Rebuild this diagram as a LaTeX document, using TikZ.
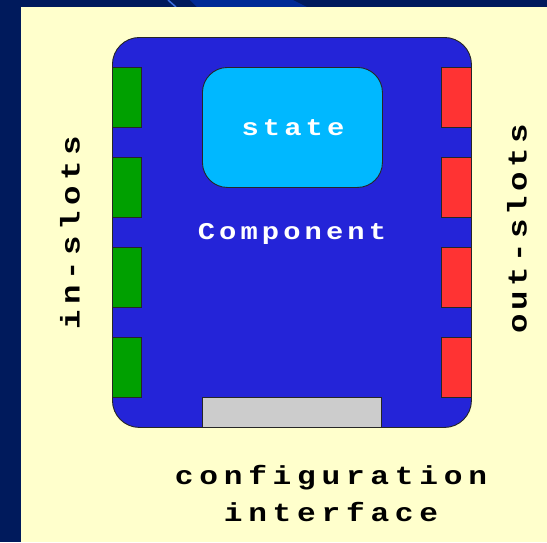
\documentclass[tikz,border=0pt]{standalone}
\usepackage{fontspec}
\newfontfamily\compfont[FakeStretch=1.2,LetterSpace=17]{Liberation Mono}
\newfontfamily\conffont[FakeStretch=1.2,LetterSpace=22]{Liberation Mono}
\newfontfamily\sidefont[FakeStretch=1.2,LetterSpace=20]{Liberation Mono}
\newfontfamily\outfont[FakeStretch=1.2,LetterSpace=16]{Liberation Mono}
\definecolor{navy}{HTML}{001A5C}
\definecolor{navyband}{HTML}{002A96}
\definecolor{lightband}{HTML}{3A6EE0}
\definecolor{paper}{HTML}{FFFFCC}
\definecolor{compblue}{HTML}{2424D8}
\definecolor{stateblue}{HTML}{00B8FF}
\definecolor{slotgreen}{HTML}{00A000}
\definecolor{slotred}{HTML}{FF3333}
\definecolor{cfggrey}{HTML}{CCCCCC}
\tikzset{
  box/.style={draw=black!85, line width=0.9pt, inner sep=0pt, anchor=north west},
  inslot/.style={box, fill=slotgreen, minimum width=29pt, minimum height=60pt},
  outslot/.style={box, fill=slotred, minimum width=30pt, minimum height=60pt},
  whitelabel/.style={text=white, font=\compfont\bfseries\fontsize{24}{24}\selectfont, inner sep=0pt, anchor=base},
  blacklabel/.style={text=black, font=\conffont\bfseries\fontsize{26}{26}\selectfont, inner sep=0pt, anchor=base},
  sidelabel/.style={text=black, font=\sidefont\bfseries\fontsize{27}{27}\selectfont, inner sep=0pt, rotate=90}
}
\begin{document}
\begin{tikzpicture}[x=1pt,y=-1pt]
\useasboundingbox (0,0) rectangle (547,542);
\fill[navy] (0,0) rectangle (547,542);
\fill[navyband] (190,0) -- (293,0) -- (307,7) -- (197,7) -- cycle;
\draw[lightband, line width=1.5pt] (168,0) -- (176,7);
\fill[paper] (21,7) rectangle (547,542);

\node[box, fill=compblue, rounded corners=27pt, minimum width=359pt, minimum height=390pt] (comp) at (112,37) {};
\node[box, fill=stateblue, rounded corners=25pt, minimum width=180pt, minimum height=120pt] (state) at (202,67) {};
\node[whitelabel] (statelabel) at (293,135) {state};
\node[whitelabel] (complabel) at (292,239) {Component};

\foreach \i/\y in {1/67,2/157,3/247,4/337}{
  \node[inslot] (in\i) at (112,\y) {};
  \node[outslot] (out\i) at (441,\y) {};
}
\node[box, fill=cfggrey, minimum width=179pt, minimum height=30pt] (cfg) at (202,397) {};

\node[sidelabel] (inlabel) at (70,233) {in-slots};
\node[sidelabel, font=\outfont\bfseries\fontsize{27}{27}\selectfont] (outlabel) at (517,229) {out-slots};

\node[blacklabel] (conf1) at (331,484) {configuration};
\node[blacklabel] (conf2) at (331,521) {interface};
\end{tikzpicture}
\end{document}
